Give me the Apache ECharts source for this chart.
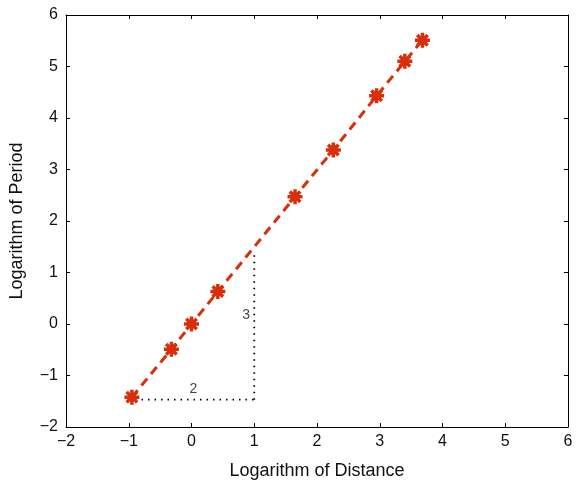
<!DOCTYPE html>
<html>
<head>
<meta charset="utf-8">
<script src="https://cdn.jsdelivr.net/npm/echarts@6/dist/echarts.min.js"></script>
<style>
  html, body { margin: 0; padding: 0; background: #fff; }
  #main { width: 580px; height: 485px; }
</style>
</head>
<body>
<div id="main"></div>
<script>
// planets: log of distance (AU) and log of period (years)
const logDistance = [-0.95, -0.32, 0.0, 0.42, 1.65, 2.26, 2.95, 3.40, 3.68];
const logPeriod = [-1.42, -0.49, 0.0, 0.63, 2.47, 3.38, 4.43, 5.10, 5.51];
const xTicks = [-2, -1, 0, 1, 2, 3, 4, 5, 6];
const yTicks = [-2, -1, 0, 1, 2, 3, 4, 5, 6];
// slope triangle
const runLine = [[-0.9, -1.47], [1, -1.47]];
const riseLine = [[1, -1.47], [1, 1.42]];
const triangleLabels = [
  { text: "2", at: [0.03, -1.27] },
  { text: "3", at: [0.87, 0.17] },
];

const red = "#d92e0c";
const font = "Liberation Sans, Arial, sans-serif";

const chartDom = document.getElementById("main");
const myChart = echarts.init(chartDom);

const baseAxis = {
  type: "value",
  interval: 1,
  axisLine: { show: true, onZero: false, lineStyle: { color: "#000", width: 1 } },
  axisTick: { show: true, inside: true, length: 4, lineStyle: { color: "#000" } },
  splitLine: { show: false },
};

const asterisk =
  "path://M0,-1L0,1M-1,0L1,0M-0.7,-0.7L0.7,0.7M-0.7,0.7L0.7,-0.7";

const pts = logDistance.map((x, i) => [x, logPeriod[i]]);
const minus = (v) => (v < 0 ? "\u2212" + Math.abs(v) : String(v));

const option = {
  animation: false,
  grid: { left: 65, right: 12, top: 15, bottom: 58 },
  xAxis: [
    Object.assign({}, baseAxis, {
      min: xTicks[0],
      max: xTicks[xTicks.length - 1],
      position: "bottom",
      name: "Logarithm of Distance",
      nameLocation: "middle",
      nameGap: 35,
      nameTextStyle: { fontFamily: font, fontSize: 18, color: "#111" },
      axisLabel: { fontFamily: font, fontSize: 16, color: "#111", margin: 7, formatter: minus },
    }),
    Object.assign({}, baseAxis, {
      min: xTicks[0],
      max: xTicks[xTicks.length - 1],
      position: "top",
      axisLabel: { show: false },
    }),
  ],
  yAxis: [
    Object.assign({}, baseAxis, {
      min: yTicks[0],
      max: yTicks[yTicks.length - 1],
      position: "left",
      name: "Logarithm of Period",
      nameLocation: "middle",
      nameGap: 40,
      nameTextStyle: { fontFamily: font, fontSize: 18, color: "#111" },
      axisLabel: { fontFamily: font, fontSize: 16, color: "#111", margin: 8, formatter: minus },
    }),
    Object.assign({}, baseAxis, {
      min: yTicks[0],
      max: yTicks[yTicks.length - 1],
      position: "right",
      axisLabel: { show: false },
    }),
  ],
  series: [
    {
      type: "line",
      data: runLine,
      symbol: "none",
      silent: true,
      lineStyle: { color: "#000", width: 1.8, type: [1.5, 5] },
    },
    {
      type: "line",
      data: riseLine,
      symbol: "none",
      silent: true,
      lineStyle: { color: "#000", width: 1.8, type: [1.5, 5] },
    },
    {
      type: "line",
      data: pts,
      symbol: "none",
      z: 3,
      lineStyle: { color: red, width: 3, type: [9, 6] },
    },
    {
      type: "scatter",
      data: pts,
      symbol: asterisk,
      symbolSize: 15,
      z: 4,
      itemStyle: { color: "none", borderColor: red, borderWidth: 3.5, opacity: 1 },
    },
    {
      type: "scatter",
      data: triangleLabels.map((d) => ({ value: d.at, name: d.text })),
      symbolSize: 0,
      label: {
        show: true,
        position: "inside",
        formatter: (p) => p.name,
        fontFamily: font,
        fontSize: 14,
        color: "#111",
      },
    },
  ],
};

option && myChart.setOption(option);
</script>
</body>
</html>
